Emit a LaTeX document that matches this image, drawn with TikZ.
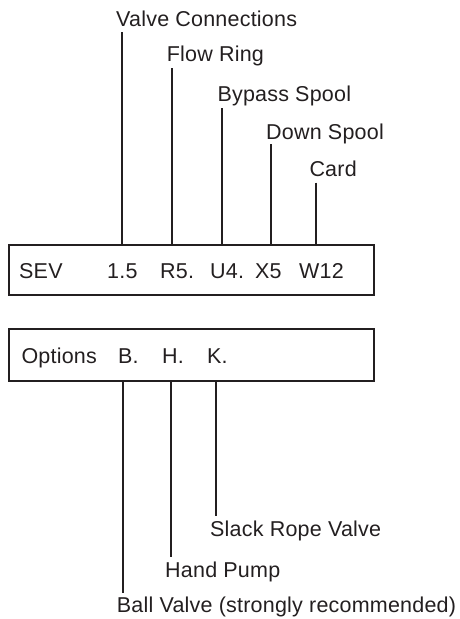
\documentclass[tikz,border=0pt]{standalone}
\usepackage{fontspec}
\setmainfont[LetterSpace=1]{Liberation Sans}
\usepackage{tikz}
\definecolor{ink}{HTML}{231F20}

\begin{document}
\begin{tikzpicture}[
x=1pt, y=-1pt,
codebox/.style={draw=ink, line width=2pt, rectangle, minimum width=365pt, minimum height=50.3pt, outer sep=0pt, inner sep=0pt},
code/.style={anchor=base west, inner sep=0pt, text=ink},
lbl/.style={anchor=base west, inner sep=0pt, text=ink},
lead/.style={draw=ink, line width=2pt}
]
\useasboundingbox (0,0) rectangle (460,619);
\fontsize{21.5}{25}\selectfont
% order code box
\node[codebox] (order) at (191.5,269.85) {};
\node[code] (sev) at (19,278) {SEV};
\node[code] (size) at (107,278) {1.5};
\node[code] (ring) at (160,278) {R5.};
\node[code] (bypass) at (210,278) {U4.};
\node[code] (down) at (255,278) {X5};
\node[code] (card) at (299,278) {W12};
% labels above
\node[lbl] (lsize) at (116,26) {Valve Connections};
\node[lbl] (lring) at (166.7,61.7) {Flow Ring};
\node[lbl] (lbypass) at (217.3,101.7) {Bypass Spool};
\node[lbl] (ldown) at (266,139.3) {Down Spool};
\node[lbl] (lcard) at (309.3,176.7) {Card};
\coordinate (tsize) at (121.7,32);
\coordinate (tring) at (172.3,68.3);
\coordinate (tbypass) at (222.3,108.3);
\coordinate (tdown) at (270.7,144);
\coordinate (tcard) at (316,182.7);
\draw[lead] (tsize) -- (tsize |- order.north);
\draw[lead] (tring) -- (tring |- order.north);
\draw[lead] (tbypass) -- (tbypass |- order.north);
\draw[lead] (tdown) -- (tdown |- order.north);
\draw[lead] (tcard) -- (tcard |- order.north);
% options box
\node[codebox, minimum height=51.4pt] (opts) at (191.5,355) {};
\node[code] (options) at (21.3,363.3) {Options};
\node[code] (ball) at (118,363.3) {B.};
\node[code] (hand) at (162,363.3) {H.};
\node[code] (slack) at (207,363.3) {K.};
% labels below
\node[lbl] (lball) at (116.7,612.3) {Ball Valve (strongly recommended)};
\node[lbl] (lhand) at (165,577.3) {Hand Pump};
\node[lbl] (lslack) at (210,536.7) {Slack Rope Valve};
\coordinate (bball) at (122.5,592.7);
\coordinate (bhand) at (170.5,556.7);
\coordinate (bslack) at (216.3,515.7);
\draw[lead] (opts.south -| bball) -- (bball);
\draw[lead] (opts.south -| bhand) -- (bhand);
\draw[lead] (opts.south -| bslack) -- (bslack);
\end{tikzpicture}
\end{document}
